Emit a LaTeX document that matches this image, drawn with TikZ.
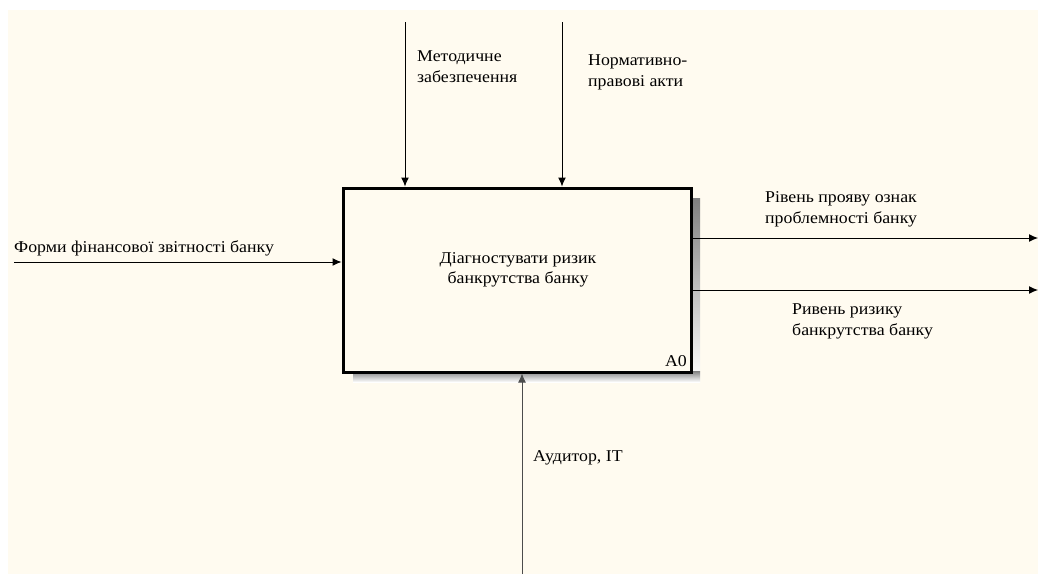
\documentclass[tikz,border=0pt]{standalone}
\usepackage{fontspec}
\setmainfont[FakeStretch=1.08]{Liberation Serif}
\usetikzlibrary{arrows.meta}
\definecolor{paper}{RGB}{255,251,240}
\definecolor{shade}{RGB}{135,132,128}
\begin{document}
\begin{tikzpicture}[x=1pt,y=-1pt,
  lbl/.style={inner sep=0pt,anchor=west,align=left,font=\fontsize{16.5}{21}\selectfont},
  flow/.style={line width=1pt,-{Latex[length=9pt,width=8pt]}},
  actbox/.style={draw,line width=3pt,fill=paper,minimum width=348pt,minimum height=184pt,inner sep=0pt}]
\useasboundingbox (0,0) rectangle (1038,574);
\fill[white] (0,0) rectangle (1038,574);
\fill[paper] (8,10) rectangle (1038,574);
% shadow
\fill[shade] (690,198) rectangle (700,382);
\fill[shade] (353,371) rectangle (700,382);
\node[actbox] (box) at (517,280) {};
\node[inner sep=0pt,align=center,font=\fontsize{16.5}{20}\selectfont] (boxtxt) at (518,270) {Діагностувати ризик\\ банкрутства банку};
\node[inner sep=0pt,anchor=east,font=\fontsize{16.5}{20}\selectfont] (a0) at (687,361) {A0};
% coordinates
\coordinate (m0) at (405,22);
\coordinate (n0) at (562,22);
\coordinate (f0) at (14,262);
\coordinate (o1) at (1038,238);
\coordinate (o2) at (1038,290);
\coordinate (u0) at (522,574);
% arrows
\draw[flow] (m0) -- (m0 |- box.north);
\draw[flow] (n0) -- (n0 |- box.north);
\draw[flow] (f0) -- (f0 -| box.west);
\draw[flow] (o1 -| box.east) -- (o1);
\draw[flow] (o2 -| box.east) -- (o2);
\draw[flow,draw=black!70] (u0) -- (u0 |- box.south);
% labels
\node[lbl] (lm) at (417,67) {Методичне\\забезпечення};
\node[lbl] (ln) at (588,72) {Нормативно-\\правові акти};
\node[lbl] (lf) at (14,248) {Форми фінансової звітності банку};
\node[lbl] (lo1) at (765,209) {Рівень прояву ознак\\проблемності банку};
\node[lbl] (lo2) at (792,321) {Ривень ризику\\банкрутства банку};
\node[lbl] (lu) at (533,458) {Аудитор, IT};
\end{tikzpicture}
\end{document}
